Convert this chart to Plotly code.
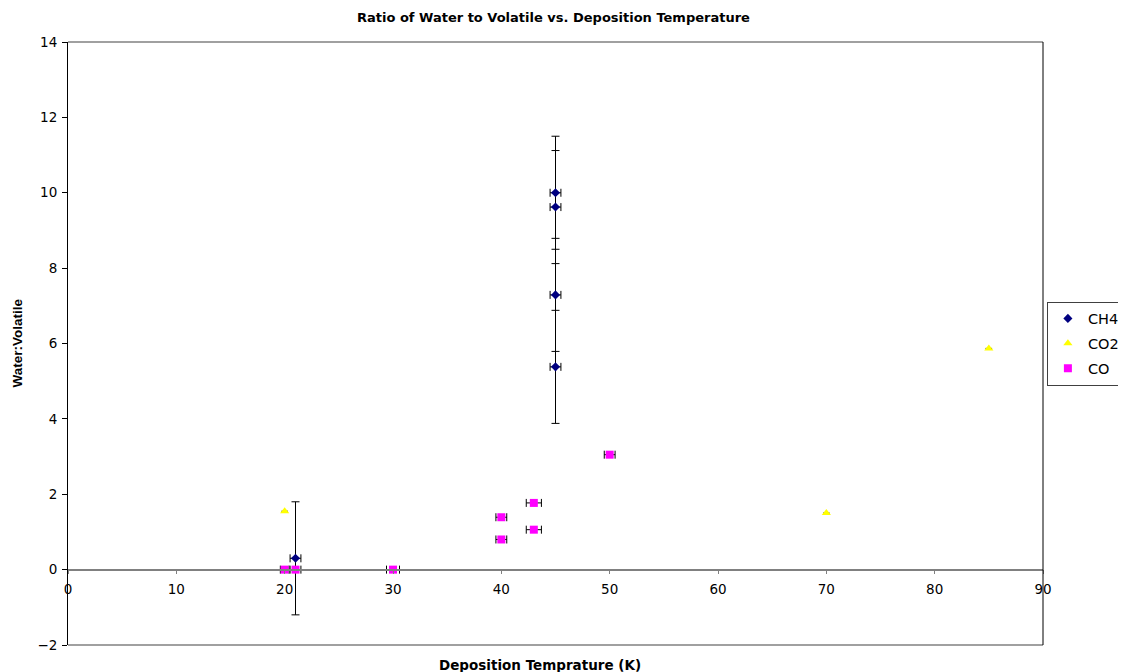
import plotly.graph_objects as go

# ---- data ----
ch4_x = [45, 45, 45, 45, 21]
ch4_y = [10.0, 9.62, 7.29, 5.38, 0.3]
ch4_yerr = [1.5, 1.5, 1.5, 1.5, 1.5]
ch4_xerr = [0.5, 0.5, 0.5, 0.5, 0.5]

co2_x = [20, 70, 85]
co2_y = [1.55, 1.5, 5.87]
co2_xerr = [0.3, 0.3, 0.3]

co_x = [20, 21, 30, 40, 40, 43, 43, 50]
co_y = [0, 0, 0, 1.39, 0.8, 1.77, 1.06, 3.05]
co_xerr = [0.4, 0.5, 0.6, 0.5, 0.5, 0.7, 0.7, 0.5]

x_ticks = [0, 10, 20, 30, 40, 50, 60, 70, 80, 90]
y_ticks = [-2, 0, 2, 4, 6, 8, 10, 12, 14]

WIDE = "DejaVu Sans, Verdana, sans-serif"
ARIAL = "Arial, Liberation Sans, sans-serif"

fig = go.Figure()
fig.add_trace(go.Scatter(
    x=ch4_x, y=ch4_y, mode="markers", name="CH4", legendgroup="a",
    marker=dict(symbol="diamond", size=7, color="#000080"),
    error_y=dict(type="data", array=ch4_yerr, visible=True, color="black", thickness=1, width=4),
    error_x=dict(type="data", array=ch4_xerr, visible=True, color="black", thickness=1, width=4),
))
fig.add_trace(go.Scatter(
    x=co2_x, y=co2_y, mode="markers", name="CO2", legendgroup="b",
    marker=dict(symbol="triangle-up", size=8, color="#FFFF00"),
    error_x=dict(type="data", array=co2_xerr, visible=True, color="black", thickness=1, width=0),
))
fig.add_trace(go.Scatter(
    x=co_x, y=co_y, mode="markers", name="CO", legendgroup="c",
    marker=dict(symbol="square", size=8, color="#FF00FF"),
    error_x=dict(type="data", array=co_xerr, visible=True, color="black", thickness=1, width=4),
))

fig.update_layout(
    width=1118, height=664,
    margin=dict(l=60, r=83, t=34, b=27, autoexpand=False),
    paper_bgcolor="white", plot_bgcolor="white",
    font=dict(family=WIDE, size=13.5, color="black"),
    showlegend=True,
    legend=dict(x=1.004, y=0.5, xanchor="left", yanchor="middle",
                bordercolor="#404040", borderwidth=1, font=dict(size=14.5, family=WIDE),
                itemwidth=30, tracegroupgap=3, traceorder="grouped"),
    xaxis=dict(range=[0, 90], tickvals=x_ticks, showgrid=False, zeroline=False,
               showline=True, linecolor="#808080", linewidth=1.5,
               ticks="outside", ticklen=4, tickcolor="#808080", automargin=False,
               anchor="free", position=0.125, ticklabelstandoff=3,
               tickfont=dict(size=13.5, family=WIDE)),
    yaxis=dict(range=[-2, 14], tickvals=y_ticks, showgrid=False, zeroline=False,
               showline=True, linecolor="black", linewidth=1, automargin=False,
               ticks="outside", ticklen=5, tickcolor="black", ticklabelstandoff=2,
               tickfont=dict(size=13.5, family=WIDE)),
    annotations=[
        dict(text="<b>Ratio of Water to Volatile vs. Deposition Temperature</b>",
             xref="paper", yref="paper", x=0.498, y=1, yshift=25, showarrow=False,
             borderpad=0, xanchor="center", yanchor="middle",
             font=dict(size=13, family=WIDE)),
        dict(text="<b>Deposition Temprature (K)</b>",
             xref="paper", yref="paper", x=0.484, y=0, yshift=-20, showarrow=False,
             xanchor="center", yanchor="middle", font=dict(size=13.5, family=WIDE)),
        dict(text="<b>Water:Volatile</b>", textangle=-90,
             xref="paper", yref="paper", x=0, xshift=-51, y=0.5, showarrow=False,
             xanchor="center", yanchor="middle", font=dict(size=13.5, family=ARIAL)),
    ],
    shapes=[
        dict(type="line", xref="paper", yref="paper", x0=0, x1=1, y0=1, y1=1,
             line=dict(color="#808080", width=1.5)),
        dict(type="line", xref="paper", yref="paper", x0=0, x1=1, y0=0, y1=0,
             line=dict(color="#808080", width=1.5)),
        dict(type="line", xref="paper", yref="paper", x0=1, x1=1, y0=0, y1=1,
             line=dict(color="black", width=1)),
    ],
)

fig.write_html("out.html")
